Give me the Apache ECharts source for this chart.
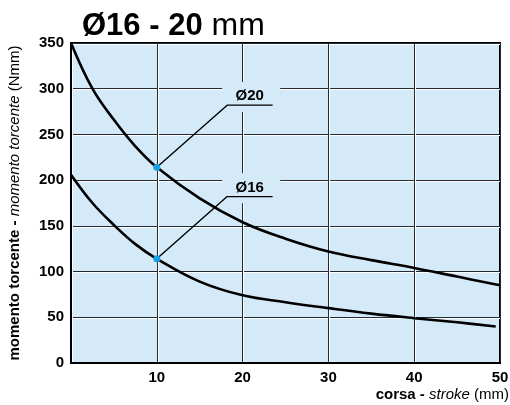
<!DOCTYPE html>
<html>
<head>
<meta charset="utf-8">
<title>Ø16 - 20 mm</title>
<script src="https://cdn.jsdelivr.net/npm/echarts@6/dist/echarts.min.js"></script>
<style>
  html, body { margin: 0; padding: 0; background: #ffffff; }
  #chart { width: 510px; height: 405px; }
</style>
</head>
<body>
<div id="chart"></div>
<script>
// Torque vs stroke for the two bore sizes
const stroke20 = [0, 2.5, 5, 7.5, 10, 15, 20, 25, 30, 35, 40, 45, 50];
const torque20 = [350, 300, 266, 237, 214, 180, 154, 136, 122, 112.5, 104, 94.5, 85];
const stroke16 = [0, 2.5, 5, 7.5, 10, 15, 20, 25, 30, 35, 40, 45, 49.5];
const torque16 = [206, 175, 151, 130, 114, 89, 74, 66.5, 60, 54, 49, 44.5, 40];

const curveNames = ['Ø20', 'Ø16'];
const xTicks = [10, 20, 30, 40, 50];
const yTicks = [0, 50, 100, 150, 200, 250, 300, 350];

// stroke value at which each curve carries its callout
const calloutStroke = 10;

const PLOT_BG = '#d4eaf8';
const FONT = 'Liberation Sans, Arial, Helvetica, sans-serif';

const pairs = (xs, ys) => xs.map((x, i) => [x, ys[i]]);
const curves = [pairs(stroke20, torque20), pairs(stroke16, torque16)];

// callout geometry, relative to the annotated point (data units)
const LEAD_DX = 8.2, LEAD_DY = 68, LEAD_END_DX = 13.5;
const BOX_DX = 11, BOX_DY = 77;

const series = [];
curves.forEach((data, k) => {
  series.push({
    name: curveNames[k],
    type: 'line',
    data: data,
    smooth: 0.4,
    symbol: 'none',
    z: 3,
    lineStyle: { color: '#000000', width: 2.6 },
    silent: true
  });
});

curves.forEach((data, k) => {
  const p = data.find(d => d[0] === calloutStroke);
  // label plate that clears the grid behind the text
  series.push({
    type: 'scatter',
    z: 1,
    silent: true,
    symbol: 'rect',
    symbolSize: [58, 30],
    itemStyle: { color: PLOT_BG, opacity: 1 },
    data: [[p[0] + BOX_DX, p[1] + BOX_DY]],
    label: {
      show: true,
      position: 'inside',
      offset: [-1.5, -1],
      formatter: curveNames[k],
      color: '#000000',
      opacity: 1,
      textBorderWidth: 0,
      textBorderColor: 'transparent',
      fontFamily: FONT,
      fontWeight: 'bold',
      fontSize: 15
    }
  });
  // leader line with underline
  series.push({
    type: 'line',
    z: 4,
    silent: true,
    symbol: 'none',
    lineStyle: { color: '#000000', width: 1.4 },
    data: [
      [p[0], p[1]],
      [p[0] + LEAD_DX, p[1] + LEAD_DY],
      [p[0] + LEAD_END_DX, p[1] + LEAD_DY]
    ]
  });
  // point marker
  series.push({
    type: 'scatter',
    z: 6,
    silent: true,
    symbol: 'circle',
    symbolSize: 7,
    itemStyle: { color: '#17a0e3', opacity: 1 },
    data: [[p[0], p[1]]]
  });
});

const gridLine = {
  show: true,
  lineStyle: {
    color: '#232a31',
    width: 1,
    shadowColor: '#ffffff',
    shadowOffsetX: 1,
    shadowOffsetY: 1,
    shadowBlur: 0
  }
};

const option = {
  animation: false,
  backgroundColor: '#ffffff',
  title: {
    text: '{b|Ø16 - 20}{n| mm}',
    left: 77,
    top: 5,
    textStyle: {
      rich: {
        b: { fontFamily: FONT, fontWeight: 'bold', fontSize: 31, color: '#000000' },
        n: { fontFamily: FONT, fontWeight: 'normal', fontSize: 32, color: '#000000' }
      }
    }
  },
  grid: {
    left: 71,
    right: 10,
    top: 43,
    bottom: 42,
    containLabel: false,
    outerBoundsMode: 'none',
    show: true,
    backgroundColor: PLOT_BG,
    borderColor: '#000000',
    borderWidth: 2
  },
  xAxis: {
    type: 'value',
    min: 0,
    max: 50,
    interval: 10,
    name: '{b|corsa - }{i|stroke}{n| (mm)}',
    nameLocation: 'end',
    nameGap: 9,
    nameTextStyle: {
      align: 'right',
      verticalAlign: 'top',
      padding: [24, 0, 0, 0],
      rich: {
        b: { fontFamily: FONT, fontWeight: 'bold', fontSize: 15, color: '#000000' },
        i: { fontFamily: FONT, fontStyle: 'italic', fontSize: 15, color: '#000000' },
        n: { fontFamily: FONT, fontSize: 15, color: '#000000' }
      }
    },
    axisLine: { show: true, lineStyle: { color: '#000000', width: 2 } },
    axisTick: { show: false },
    axisLabel: {
      margin: 7,
      fontFamily: FONT,
      fontWeight: 'bold',
      fontSize: 15,
      color: '#000000',
      formatter: v => (xTicks.includes(v) ? String(v) : '')
    },
    splitLine: gridLine
  },
  yAxis: {
    type: 'value',
    min: 0,
    max: 350,
    interval: 50,
    name: '{b|momento torcente - }{i|momento torcente}{n| (Nmm)}',
    nameLocation: 'middle',
    nameRotate: 90,
    nameGap: 49,
    nameTextStyle: {
      rich: {
        b: { fontFamily: FONT, fontWeight: 'bold', fontSize: 15, color: '#000000' },
        i: { fontFamily: FONT, fontStyle: 'italic', fontSize: 15, color: '#000000' },
        n: { fontFamily: FONT, fontSize: 15, color: '#000000' }
      }
    },
    axisLine: { show: true, lineStyle: { color: '#000000', width: 2 } },
    axisTick: { show: false },
    axisLabel: {
      margin: 7,
      fontFamily: FONT,
      fontWeight: 'bold',
      fontSize: 15,
      color: '#000000',
      formatter: v => (yTicks.includes(v) ? String(v) : '')
    },
    splitLine: gridLine
  },
  series: series
};

const chart = echarts.init(document.getElementById('chart'), null, { renderer: 'canvas' });
chart.setOption(option);
</script>
</body>
</html>
